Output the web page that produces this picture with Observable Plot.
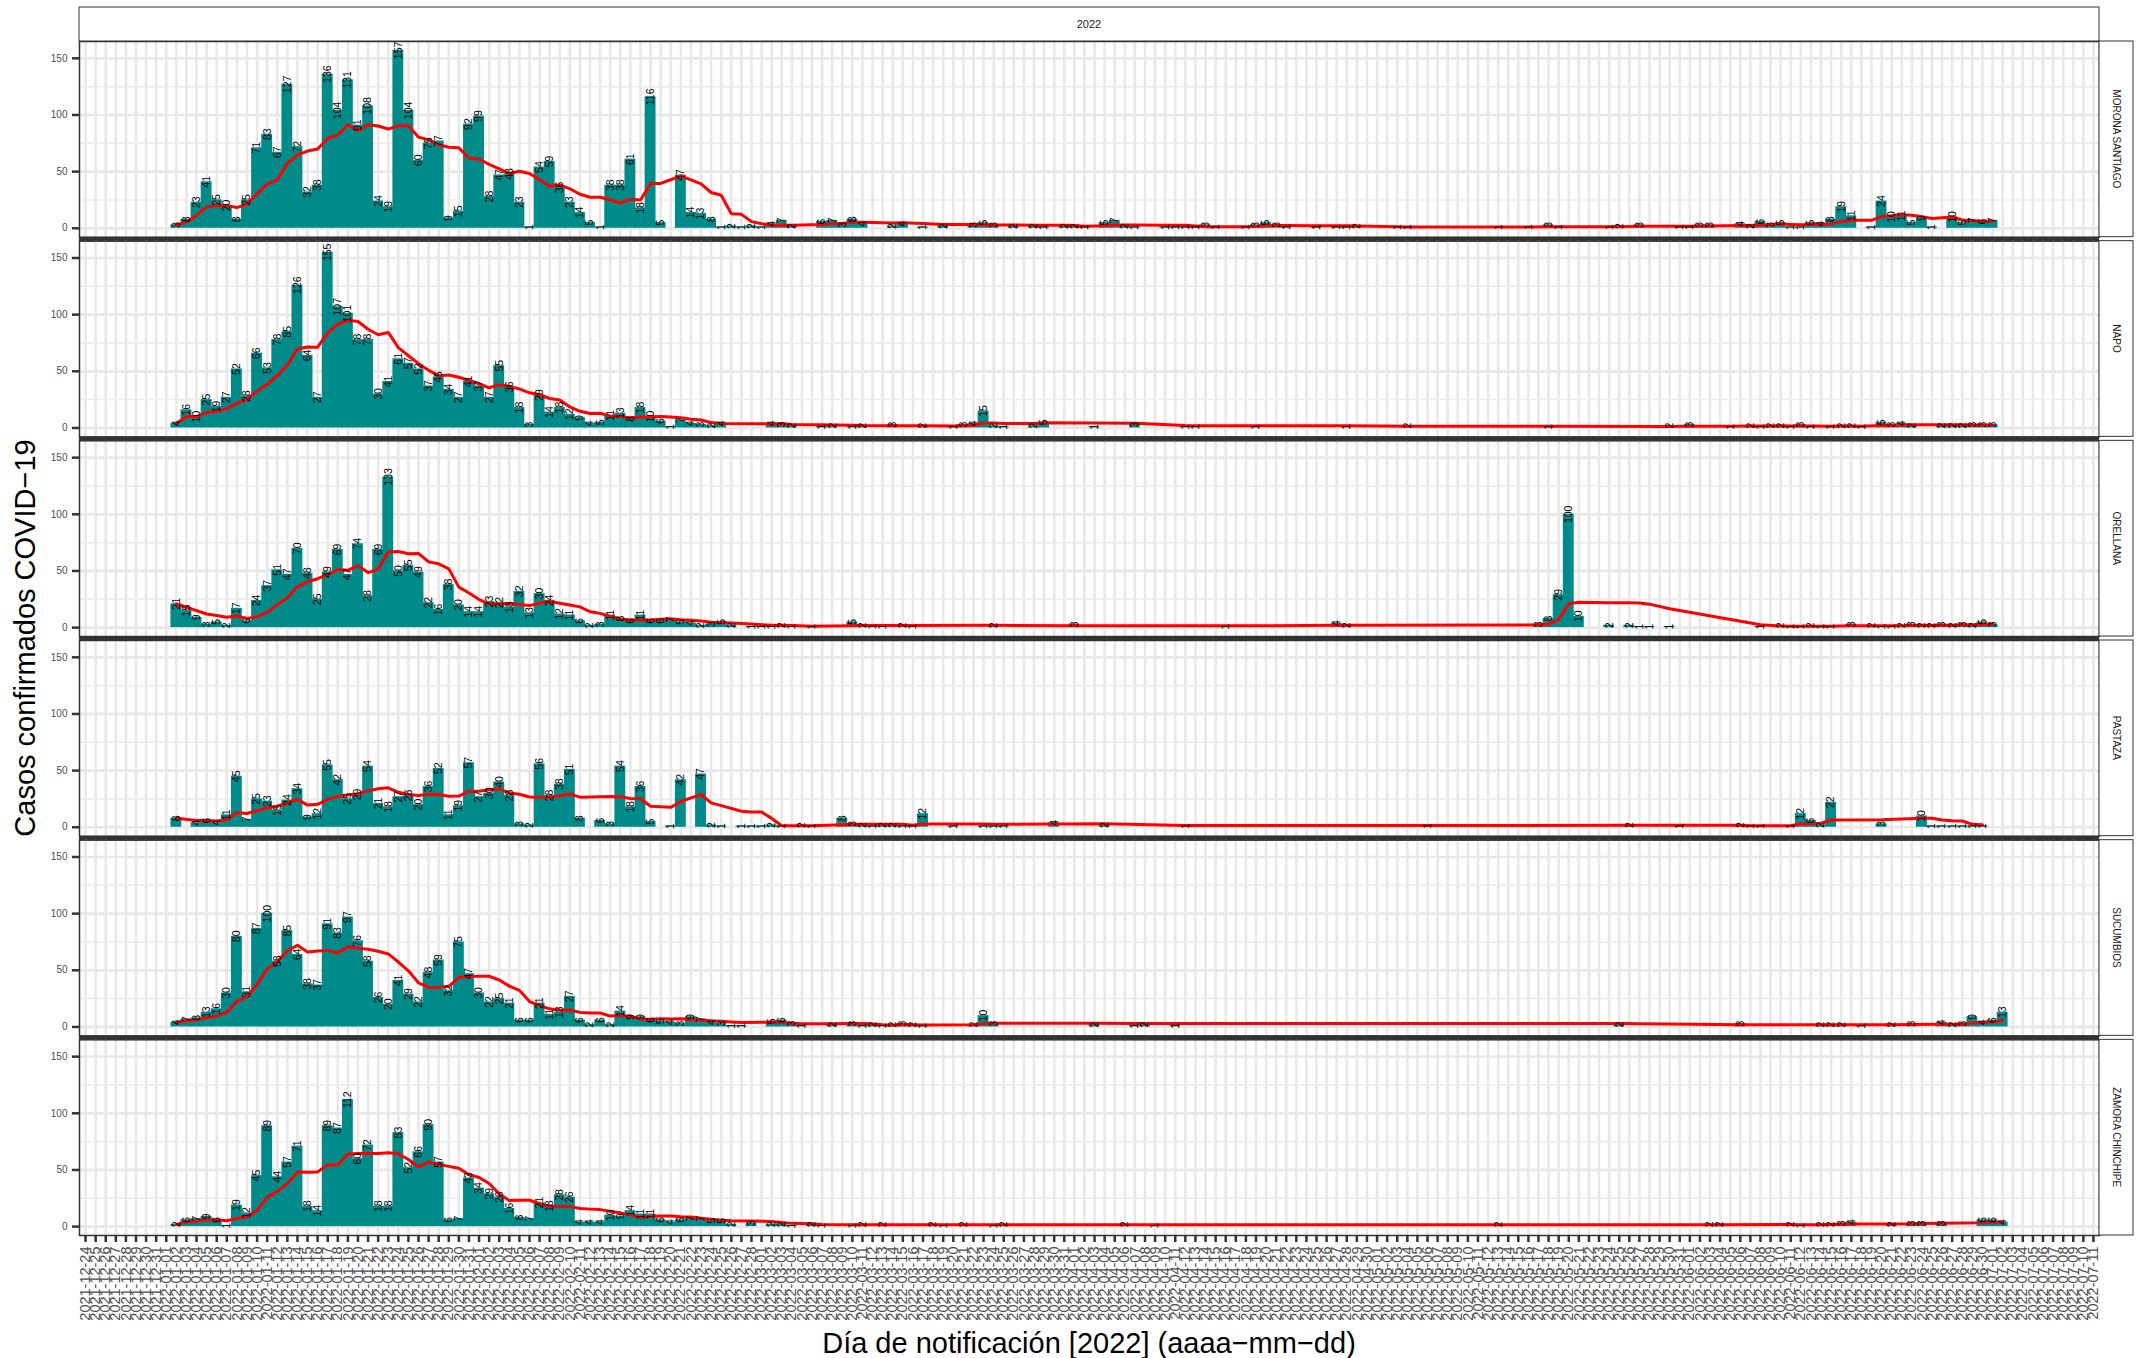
<!DOCTYPE html>
<html><head><meta charset="utf-8">
<script src="https://cdn.jsdelivr.net/npm/d3@7"></script>
<script src="https://cdn.jsdelivr.net/npm/@observablehq/plot@0.6"></script>
<style>
html,body{margin:0;padding:0;background:#fff;}
svg{font-family:"Liberation Sans",Arial,Helvetica,sans-serif;}
</style></head>
<body><div id="chart"></div>
<script>
const _ = null;
const provinces = ["MORONA SANTIAGO","NAPO","ORELLANA","PASTAZA","SUCUMBIOS","ZAMORA CHINCHIPE"];
const firstDay = "2021-12-24", lastDay = "2022-07-11", seriesStart = "2022-01-02";
// daily confirmed cases from 2022-01-02, rows of 10 days (null = no record)
const morona = [
3,8,23,41,25,20,8,25,71,83, 67,127,72,32,38,136,104,131,91,108, 24,19,157,104,60,75,77,9,15,92,
99,28,47,48,23,1,54,59,36,23, 14,5,1,38,38,61,18,116,5,_, 47,14,13,8,1,2,1,2,1,4,
7,2,_,_,6,7,3,8,4,_, _,2,4,_,1,_,2,_,_,3, 5,3,_,2,_,2,1,_,2,2,
1,_,5,7,2,1,_,_,1,1, 1,1,3,1,_,_,1,3,5,3, 1,_,_,1,_,1,1,2,_,_,
_,1,1,_,_,_,_,_,_,_, _,1,_,_,1,_,3,1,_,_, _,_,1,2,_,3,_,_,_,1,
1,3,3,_,_,4,2,6,3,5, 1,1,5,4,8,19,11,_,1,24, 10,11,5,9,1,_,10,5,7,6, 7,_];
const napo = [
4,16,10,25,19,27,52,28,66,53, 78,85,126,64,27,155,107,101,78,78, 30,41,61,57,52,37,45,34,27,41,
37,27,55,36,18,3,29,14,18,12, 9,4,5,11,13,8,18,10,6,1, 7,4,3,2,4,_,_,_,_,4,
3,2,_,_,1,2,_,1,2,_, _,3,_,_,2,_,_,1,3,4, 15,2,1,_,_,2,5,_,_,_,
_,1,_,_,_,3,_,_,_,_, 1,1,_,_,_,_,_,1,_,_, _,_,_,_,_,_,1,_,_,_,
_,_,2,_,_,_,_,_,_,_, _,_,_,_,_,_,1,_,_,_, _,_,_,_,_,_,_,_,2,_,
3,_,_,_,1,_,2,1,2,2, 1,3,1,_,1,2,2,1,_,5, 3,4,2,_,_,2,2,2,3,3, 3,_];
const orellana = [
21,15,9,3,5,2,17,6,24,37, 51,47,70,48,25,49,69,47,74,28, 69,133,50,55,49,22,16,38,20,14,
14,23,22,18,32,13,30,24,12,11, 6,2,3,11,8,6,11,6,6,7, 5,4,2,3,5,2,_,1,1,1,
2,1,_,1,_,_,_,5,2,1, 1,_,2,1,_,_,_,_,_,_, _,2,_,_,_,_,_,_,_,3,
_,_,_,_,_,_,_,_,_,_, _,_,_,_,1,_,_,_,_,_, _,_,_,_,_,4,2,_,_,_,
_,_,_,_,_,_,_,_,_,_, _,_,_,_,_,3,8,29,100,10, _,_,2,_,2,1,1,_,1,_,
_,_,_,_,_,_,_,1,_,2, 1,1,2,1,1,_,3,_,2,1, 1,2,3,2,2,3,2,3,2,5, 3,_];
const pastaza = [
8,_,4,6,4,11,45,7,25,23, 15,24,34,9,12,55,42,25,29,54, 21,18,27,28,20,36,52,11,19,57,
27,30,40,28,3,2,56,28,38,51, 8,_,6,3,54,18,36,5,_,1, 42,_,47,2,1,_,1,1,1,2,
1,_,2,1,_,_,8,3,2,1, 2,2,1,1,12,_,_,1,_,_, 1,1,1,_,_,_,_,4,_,_,
_,_,2,_,_,_,_,_,_,_, 1,_,_,_,_,_,_,_,_,_, _,_,_,_,_,_,_,_,_,_,
_,_,_,_,1,_,_,_,_,_, _,_,_,_,_,_,_,_,_,_, _,_,_,_,2,_,_,_,_,1,
_,_,_,_,_,2,1,1,_,_, 1,12,6,2,22,_,_,_,_,3, _,_,_,10,1,1,1,1,1,1, _,_];
const sucumbios = [
4,7,8,13,16,30,80,31,87,100, 58,85,64,38,37,91,83,97,76,58, 26,20,41,29,22,48,59,32,75,47,
30,22,25,21,6,6,21,11,13,27, 6,2,6,2,14,9,9,6,5,4, 3,9,7,4,3,1,1,_,_,5,
6,3,1,_,_,2,_,3,1,2, 1,2,3,2,1,_,_,_,_,2, 10,3,_,_,_,_,_,_,_,_,
_,2,_,_,_,1,2,_,_,1, _,_,_,_,_,_,_,_,_,_, _,_,_,_,_,_,_,_,_,_,
_,_,_,_,_,_,_,_,_,_, _,_,_,_,_,_,_,_,_,_, _,_,_,2,_,_,_,_,_,_,
_,_,_,_,_,3,_,_,_,_, _,_,_,2,2,2,_,1,_,_, 2,_,3,_,_,4,2,3,9,4, 6,13];
const zamora = [
2,6,7,9,6,1,19,12,45,89, 44,57,71,18,14,89,87,112,60,72, 18,18,83,52,66,90,57,6,7,43,
34,29,26,16,8,7,21,18,28,26, 4,4,4,10,9,14,11,11,6,4, 6,7,7,5,5,2,_,3,_,2,
2,1,_,2,1,_,_,1,2,_, 2,_,_,_,_,2,1,_,2,_, _,1,2,_,_,_,_,_,_,_,
_,_,_,_,2,_,_,1,_,_, _,_,_,_,_,_,_,_,_,_, _,_,_,_,_,_,_,_,_,_,
_,_,_,_,_,_,_,_,_,_, _,2,_,_,_,_,_,_,_,_, _,_,_,_,_,_,_,_,_,_,
_,_,2,2,_,_,_,_,_,_, 2,1,_,2,2,3,4,_,_,_, 2,_,3,3,_,3,_,_,_,6, 6,4];
const yTicks = [0, 50, 100, 150];
const yMinor = [25, 75, 125];
const colTitle = "2022";
const xTitle = "Día de notificación [2022] (aaaa−mm−dd)";
const yTitle = "Casos confirmados COVID−19";

const fmt = d3.utcFormat("%Y-%m-%d");
const dates = d3.utcDay.range(new Date(firstDay), d3.utcDay.offset(new Date(lastDay), 1)).map(fmt);
const offset = dates.indexOf(seriesStart);
const seriesBy = {"MORONA SANTIAGO": morona, "NAPO": napo, "ORELLANA": orellana,
  "PASTAZA": pastaza, "SUCUMBIOS": sucumbios, "ZAMORA CHINCHIPE": zamora};
const rows = [];
for (const p of provinces) seriesBy[p].forEach((v, j) => {
  if (v != null) rows.push({prov: p, date: dates[offset + j], value: v});
});

const W = 2144, H = 1358, ML = 79, MR = 45, MT = 41, MB = 123;
const font = "Liberation Sans, Arial, Helvetica, sans-serif";
const plot = Plot.plot({
  width: W, height: H,
  marginLeft: ML, marginRight: MR, marginTop: MT, marginBottom: MB,
  style: {fontFamily: font, background: "white"},
  x: {type: "band", domain: dates, paddingInner: 0, paddingOuter: 0.1, round: false},
  y: {domain: [-7.85, 164.85]},
  fy: {domain: provinces, paddingInner: 0.02, paddingOuter: 0, round: false, axis: null},
  marks: [
    Plot.frame({fill: "white"}),
    Plot.ruleX(dates, {x: d => d, stroke: "#e8e8e8", strokeWidth: 2.6}),
    Plot.ruleY(yMinor, {stroke: "#ebebeb", strokeWidth: 1.5}),
    Plot.ruleY(yTicks, {stroke: "#e8e8e8", strokeWidth: 2.7}),
    Plot.barY(rows, {x: "date", y: "value", fy: "prov", fill: "#008B8B", insetLeft: -0.4, insetRight: -0.4}),
    Plot.line(rows, Plot.windowY({k: 7, anchor: "end", strict: false},
      {x: "date", y: "value", fy: "prov", stroke: "#FF0000", strokeWidth: 3})),
    Plot.text(rows, {x: "date", y: "value", fy: "prov", text: d => String(d.value),
      rotate: -90, fontSize: 10.5, fill: "#000"}),
    Plot.frame({stroke: "#333", strokeWidth: 1.5}),
    Plot.axisY(yTicks, {tickSize: 7, tickPadding: 5, fontSize: 10, color: "#4d4d4d",
      stroke: "#333", strokeWidth: 2.5, label: null}),
    Plot.axisX({tickSize: 7, tickPadding: 4, tickRotate: -90, fontSize: 14.5, color: "#4d4d4d",
      stroke: "#333", strokeWidth: 2.5, label: null})
  ]
});
document.getElementById("chart").appendChild(plot);

const svg = d3.select(plot);
const fy = plot.scale("fy");
const bw = fy.bandwidth;
// dark band behind panels (gaps)
svg.insert("rect", "g").attr("x", ML).attr("y", MT).attr("width", W - ML - MR)
  .attr("height", H - MT - MB).attr("fill", "#333");
// top strip
const g = svg.append("g");
g.append("rect").attr("x", ML).attr("y", 7).attr("width", W - ML - MR).attr("height", MT - 7)
  .attr("fill", "white").attr("stroke", "#333").attr("stroke-width", 1);
g.append("text").attr("x", (ML + W - MR) / 2).attr("y", (7 + MT) / 2).attr("text-anchor", "middle")
  .attr("dominant-baseline", "central").attr("font-size", 11).attr("fill", "#1a1a1a").text(colTitle);
// right strips
for (const p of provinces) {
  const y0 = fy.apply(p);
  g.append("rect").attr("x", W - MR).attr("y", y0).attr("width", 34).attr("height", bw)
    .attr("fill", "white").attr("stroke", "#333").attr("stroke-width", 1);
  g.append("text").attr("transform", `translate(${W - MR + 17},${y0 + bw / 2}) rotate(90)`)
    .attr("text-anchor", "middle").attr("dominant-baseline", "central")
    .attr("font-size", 10).attr("fill", "#1a1a1a").text(p);
}
// axis titles
g.append("text").attr("x", (ML + W - MR) / 2).attr("y", 1343).attr("text-anchor", "middle")
  .attr("dominant-baseline", "central").attr("font-size", 29).attr("fill", "#000").text(xTitle);
g.append("text").attr("transform", `translate(25,${(MT + H - MB) / 2}) rotate(-90)`)
  .attr("text-anchor", "middle").attr("dominant-baseline", "central")
  .attr("font-size", 29).attr("fill", "#000").text(yTitle);
</script></body></html>
